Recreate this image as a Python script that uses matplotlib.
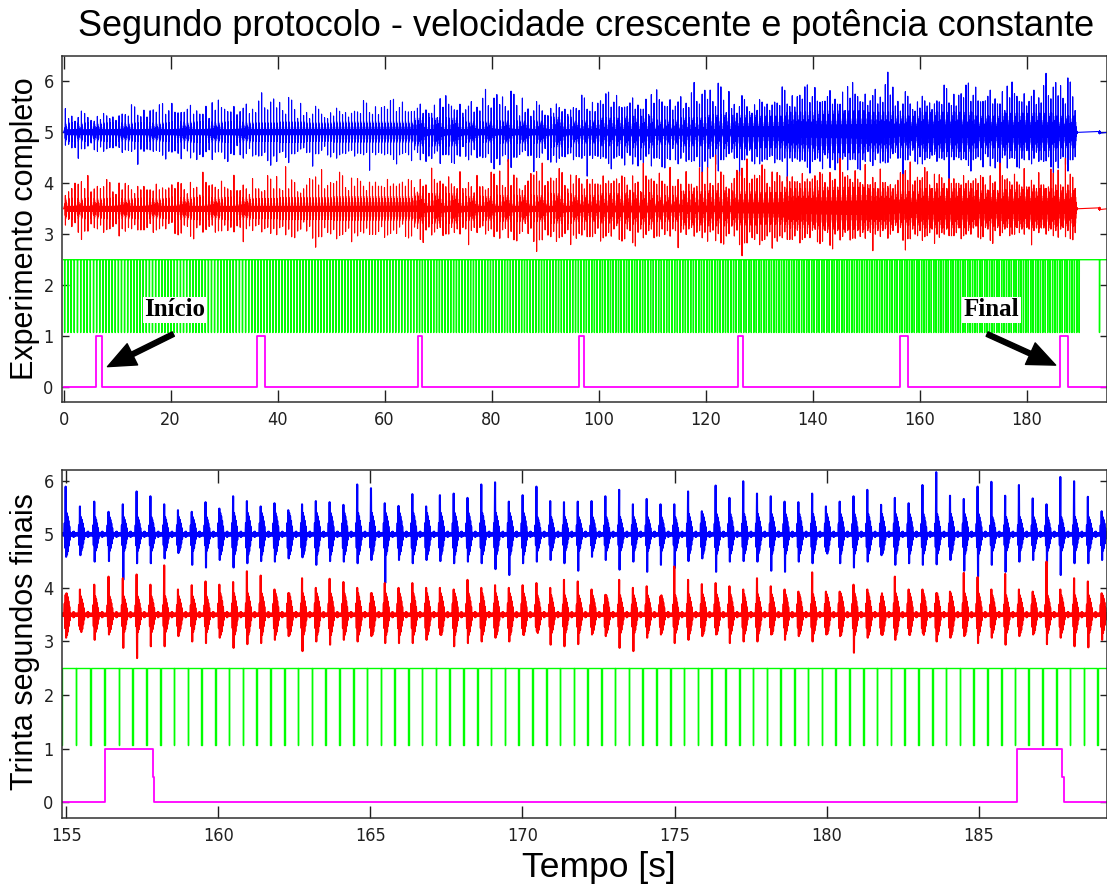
import numpy as np
import matplotlib.pyplot as plt

plt.rcParams['font.family'] = ['Liberation Sans', 'DejaVu Sans']

# -----------------------------------------------------
# values
# -----------------------------------------------------

# magenta stage marker (on / off times in s)
stage_on = [6.1, 36.2, 66.3, 96.4, 126.0, 156.26, 186.27]
stage_off = [7.2, 37.6, 67.0, 97.3, 126.96, 157.88, 187.79]
stage_drop = 0.48

# green trigger: beat period (s) of each stage
stage_start = [0.0, 6.1, 36.2, 66.3, 96.4, 126.0, 156.26]
stage_period = [0.60, 0.58, 0.56, 0.53, 0.50, 0.47, 0.4533]
trigger_anchor = 154.84
trigger_end = 190.1
trigger_extra = [193.6]
green_high = 2.5
green_low = 1.07

# whole run: typical burst peak per 10 s block (from 0 s)
blue_up_env = [0.36, 0.40, 0.44, 0.46, 0.44, 0.46, 0.46, 0.50, 0.52, 0.54, 0.56, 0.58, 0.62, 0.66, 0.68, 0.70]
blue_dn_env = [0.33, 0.38, 0.42, 0.45, 0.43, 0.45, 0.45, 0.48, 0.50, 0.52, 0.52, 0.55, 0.55, 0.58, 0.58, 0.58]
red_up_env = [0.40, 0.42, 0.45, 0.47, 0.47, 0.50, 0.50, 0.52, 0.55, 0.55, 0.56, 0.58, 0.60, 0.60, 0.62, 0.62]
red_dn_env = [0.36, 0.38, 0.42, 0.44, 0.45, 0.46, 0.47, 0.48, 0.50, 0.50, 0.52, 0.52, 0.55, 0.55, 0.56, 0.56]

# dense body of the bursts per 5 s block (from 0 s)
blue_body = [0.20, 0.20, 0.20, 0.20, 0.22, 0.22, 0.22, 0.20, 0.22, 0.20, 0.22, 0.22, 0.22, 0.30,
             0.30, 0.22, 0.24, 0.24, 0.32, 0.24, 0.30, 0.34, 0.26, 0.30, 0.36, 0.36, 0.34, 0.42,
             0.45, 0.45, 0.42, 0.34, 0.42, 0.42, 0.34, 0.40, 0.40, 0.34, 0.30]
red_body = [0.22, 0.22, 0.22, 0.22, 0.24, 0.24, 0.24, 0.22, 0.24, 0.24, 0.26, 0.26, 0.26, 0.32,
            0.32, 0.26, 0.28, 0.28, 0.32, 0.28, 0.32, 0.34, 0.28, 0.36, 0.38, 0.36, 0.34, 0.42,
            0.45, 0.45, 0.42, 0.36, 0.42, 0.42, 0.38, 0.40, 0.42, 0.38, 0.30]

# last thirty seconds: peak of every burst above / below its baseline
blue_up = [0.89, 0.52, 0.61, 0.42, 0.56, 0.80, 0.71, 0.56, 0.45, 0.42, 0.60, 0.48, 0.71, 0.62, 0.52, 0.58,
           0.45, 0.56, 0.62, 0.60, 0.55, 0.93, 0.86, 0.58, 0.53, 0.75, 0.52, 0.73, 0.76, 0.68, 0.93, 0.97,
           0.61, 0.73, 0.89, 0.62, 0.60, 0.61, 0.62, 0.71, 0.83, 0.56, 0.66, 0.56, 0.56, 0.80, 0.43, 0.91,
           0.68, 0.99, 0.76, 0.71, 0.61, 0.60, 0.76, 0.52, 0.61, 0.71, 0.83, 0.55, 0.68, 0.58, 0.92, 1.16,
           0.72, 0.66, 0.89, 0.98, 0.72, 0.92, 0.67, 0.56, 1.07, 0.99, 0.70, 0.43]
blue_dn = [0.42, 0.39, 0.51, 0.50, 0.85, 0.54, 0.54, 0.45, 0.35, 0.57, 0.62, 0.48, 0.62, 0.54, 0.50, 0.51,
           0.45, 0.43, 0.57, 0.50, 0.51, 0.54, 0.48, 0.91, 0.48, 0.54, 0.48, 0.50, 0.54, 0.51, 0.54, 0.65,
           0.76, 0.54, 0.51, 0.48, 0.54, 0.68, 0.42, 0.48, 0.66, 0.51, 0.70, 0.57, 0.63, 0.50, 0.45, 0.70,
           0.51, 0.50, 0.51, 0.68, 0.70, 0.51, 0.54, 0.32, 0.54, 0.62, 0.51, 0.39, 0.57, 0.54, 0.57, 0.56,
           0.48, 0.68, 0.79, 0.57, 0.70, 0.51, 0.48, 0.63, 0.76, 0.54, 0.54, 0.48]
red_up = [0.37, 0.47, 0.56, 0.71, 0.68, 0.75, 0.56, 0.92, 0.47, 0.55, 0.62, 0.56, 0.61, 0.81, 0.73, 0.47,
          0.40, 0.68, 0.50, 0.67, 0.61, 0.50, 0.40, 0.59, 0.50, 0.59, 0.50, 0.50, 0.47, 0.65, 0.50, 0.55,
          0.50, 0.55, 0.59, 0.50, 0.65, 0.62, 0.47, 0.37, 0.65, 0.50, 0.53, 0.34, 0.90, 0.65, 0.57, 0.59,
          0.53, 0.47, 0.68, 0.53, 0.47, 0.43, 0.79, 0.43, 0.43, 0.56, 0.47, 0.34, 0.71, 0.47, 0.47, 0.40,
          0.43, 0.78, 0.70, 0.47, 0.76, 0.47, 0.43, 0.99, 0.47, 0.68, 0.62, 0.40]
red_dn = [0.43, 0.28, 0.47, 0.37, 0.62, 0.81, 0.59, 0.59, 0.40, 0.50, 0.53, 0.43, 0.62, 0.55, 0.53, 0.47,
          0.40, 0.68, 0.50, 0.56, 0.47, 0.50, 0.40, 0.53, 0.53, 0.53, 0.47, 0.37, 0.59, 0.53, 0.50, 0.43,
          0.50, 0.37, 0.31, 0.56, 0.59, 0.55, 0.37, 0.40, 0.62, 0.68, 0.43, 0.37, 0.53, 0.47, 0.40, 0.37,
          0.53, 0.50, 0.50, 0.37, 0.47, 0.40, 0.50, 0.37, 0.40, 0.71, 0.43, 0.37, 0.47, 0.37, 0.34, 0.50,
          0.43, 0.40, 0.53, 0.43, 0.56, 0.40, 0.37, 0.55, 0.43, 0.59, 0.61, 0.47]

# shape of one burst and of the quiet stretch after it
tip_shape = [0, 0, 1, -1, 0, 0, 0, 0, 0, 0, 0, 0]
body_shape = [0.5, -0.6, 0, 0, 0.95, -0.9, 0.8, -0.75, 0.6, -0.5, 0.35, -0.25]
tail_shape = [0.6, -0.5, 0.4, -0.5, 0.3, -0.4, 0.5, -0.3, 0.9, -1.0, 1.0, -0.8,
              0.6, -0.5, 0.4, -0.5, 0.3, -0.4, 0.5, -0.4, 0.3, -0.5, 0.4, -0.3]
tail_amp = 0.05
burst_delay = 0.11
burst_dt = 0.015
signal_end = 189.4
blip_time = 193.6

blue_base = 5.0
red_base = 3.5

top_xlim = (-0.3, 195.0)
bottom_xlim = (154.86, 189.22)

# -----------------------------------------------------

def period_at(t):
    i = np.searchsorted(stage_start, t, side="right") - 1
    return stage_period[max(i, 0)]


def trigger_times():
    back = []
    t = trigger_anchor
    while t > 0.1:
        back.append(t)
        t = t - period_at(t - 0.001)
    fwd = []
    t = trigger_anchor + period_at(trigger_anchor)
    while t < trigger_end:
        fwd.append(t)
        t = t + period_at(t)
    return np.array(back[::-1] + fwd)


triggers = trigger_times()
n_before = int(np.searchsorted(triggers, trigger_anchor - 1e-6))
bursts = triggers[triggers + burst_delay + 0.15 < signal_end]


def beat_peaks(env, last30):
    pattern = np.array(last30) / np.mean(last30)
    peaks = []
    for k, t in enumerate(bursts):
        if k >= n_before:
            peaks.append(last30[min(k - n_before, len(last30) - 1)])
        else:
            peaks.append(env[min(int(t // 10), len(env) - 1)] * pattern[k % len(pattern)])
    return np.array(peaks)


def build_signal(base, ups, dns, body_env):
    tip = np.array(tip_shape, dtype=float)
    body_s = np.array(body_shape)
    tail = np.array(tail_shape)
    xs = [0.0]
    ys = [base]
    for k in range(len(bursts)):
        t0 = bursts[k] + burst_delay
        tb = t0 + burst_dt * np.arange(len(tip))
        body = body_env[min(int(t0 // 5), len(body_env) - 1)]
        yb = base + ups[k] * np.clip(tip, 0, None) + dns[k] * np.clip(tip, None, 0) + body * body_s
        if k + 1 < len(bursts):
            t1 = bursts[k + 1] + burst_delay
        else:
            t1 = signal_end
        tt = np.linspace(tb[-1] + burst_dt, t1 - burst_dt, len(tail))
        xs.extend(tb)
        ys.extend(yb)
        xs.extend(tt)
        ys.extend(base + tail_amp * tail)
    xs += [signal_end]
    ys += [base]
    tt = blip_time + burst_dt * np.arange(-8, 8)
    xs.extend(tt)
    ys.extend(base + 0.6 * tail_amp * tail[:16])
    xs += [top_xlim[1]]
    ys += [base]
    return np.array(xs), np.array(ys)


def build_trigger():
    xs = [0.0]
    ys = [green_high]
    for t in list(triggers) + trigger_extra:
        xs += [t, t, t + 0.02, t + 0.02]
        ys += [green_high, green_low, green_low, green_high]
    xs.append(top_xlim[1])
    ys.append(green_high)
    return xs, ys


def build_marker():
    xs = [0.0]
    ys = [0.0]
    for on, off in zip(stage_on, stage_off):
        xs += [on, on, off - 0.04, off - 0.04, off, off]
        ys += [0, 1, 1, stage_drop, stage_drop, 0]
    xs.append(top_xlim[1])
    ys.append(0.0)
    return xs, ys


bx, by = build_signal(blue_base, beat_peaks(blue_up_env, blue_up), beat_peaks(blue_dn_env, blue_dn), blue_body)
rx, ry = build_signal(red_base, beat_peaks(red_up_env, red_up), beat_peaks(red_dn_env, red_dn), red_body)
gx, gy = build_trigger()
mx, my = build_marker()

# -----------------------------------------------------

fig = plt.figure(figsize=(11.07, 8.94), dpi=100)
W, H = 1107.0, 894.0
ax1 = fig.add_axes([62 / W, 1 - 402.3 / H, 1045 / W, (402.3 - 56) / H])
ax2 = fig.add_axes([62 / W, 1 - 818.3 / H, 1045 / W, (818.3 - 470) / H])

for ax, lw in [(ax1, 0.8), (ax2, 1.5)]:
    ax.plot(bx, by, color="#0000ff", lw=lw)
    ax.plot(rx, ry, color="#ff0000", lw=lw)
    ax.plot(gx, gy, color="#00ff00", lw=1.0)
    ax.plot(mx, my, color="#ff00ff", lw=1.3)
    ax.set_yticks(range(0, 7))
    ax.tick_params(direction="in", top=True, right=True, labelsize=14, width=1.0, colors="#202020")
    ax.tick_params(axis="x", length=9, pad=6)
    ax.tick_params(axis="y", length=5, pad=6)
    for s in ax.spines.values():
        s.set_linewidth(1.1)
        s.set_color("#303030")

ax1.set_xlim(*top_xlim)
ax1.set_ylim(-0.3, 6.5)
ax1.set_xticks(range(0, 181, 20))
ax2.set_xlim(*bottom_xlim)
ax2.set_ylim(-0.3, 6.2)
ax2.set_xticks(range(155, 186, 5))

for ax in (ax1, ax2):
    for lab in ax.get_xticklabels() + ax.get_yticklabels():
        lab.set_fontfamily(["DejaVu Sans"])
        lab.set_fontstretch("condensed")
        lab.set_fontsize(13)

arrow = dict(facecolor="black", edgecolor="black", width=3.5, headwidth=17, headlength=20, shrink=0)
ax1.annotate("", xy=(8.2, 0.40), xytext=(20.5, 1.04), arrowprops=arrow)
ax1.annotate("", xy=(185.4, 0.43), xytext=(172.6, 1.04), arrowprops=arrow)
box = dict(facecolor="white", edgecolor="none", pad=1)
ax1.text(20.8, 1.52, "Início", family="Liberation Serif", weight="bold", fontsize=18,
         ha="center", va="center", bbox=box)
ax1.text(173.4, 1.52, "Final", family="Liberation Serif", weight="bold", fontsize=18,
         ha="center", va="center", bbox=box)

fig.text(586 / W, 1 - 27 / H, "Segundo protocolo - velocidade crescente e potência constante",
         fontsize=26, ha="center", va="center")
fig.text(25 / W, 1 - 229 / H, "Experimento completo", fontsize=22, rotation=90,
         ha="center", va="center")
fig.text(25 / W, 1 - 642 / H, "Trinta segundos finais", fontsize=22, rotation=90,
         ha="center", va="center")
fig.text(599 / W, 1 - 867 / H, "Tempo [s]", fontsize=25.5, ha="center", va="center")

fig.savefig("out.png", dpi=100)
